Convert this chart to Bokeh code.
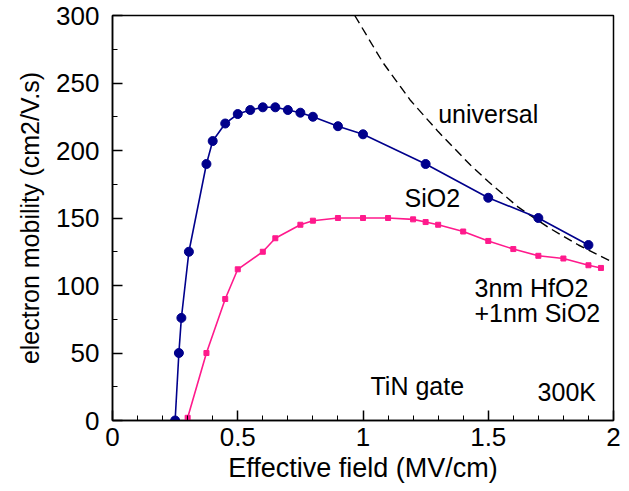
from bokeh.plotting import figure
from bokeh.models import Range1d, FixedTicker, Label
from bokeh.embed import file_html
from bokeh.resources import INLINE

# Electron mobility vs. effective field, TiN gate, 300 K
sio2_field = [0.25, 0.265, 0.275, 0.305, 0.375, 0.40, 0.45, 0.50, 0.55, 0.60,
              0.65, 0.70, 0.75, 0.80, 0.90, 1.00, 1.25, 1.50, 1.70, 1.90]
sio2_mobility = [0, 50, 76, 125, 190, 207, 220, 227, 230, 232,
                 232, 230, 228, 225, 218, 212, 190, 165, 150, 130]

hfo2_field = [0.30, 0.375, 0.45, 0.50, 0.60, 0.65, 0.75, 0.80, 0.90, 1.00, 1.10,
              1.20, 1.25, 1.30, 1.40, 1.50, 1.60, 1.70, 1.80, 1.90, 1.95]
hfo2_mobility = [2, 50, 90, 112, 125, 135, 145, 148, 150, 150, 150,
                 149, 147, 145, 140, 133, 127, 122, 120, 115, 113]

universal_field = [0.967, 1.08, 1.19, 1.30, 1.43, 1.50, 1.62, 1.74, 1.86, 2.0]
universal_mobility = [300, 265, 237, 214, 189, 177, 158, 143, 130, 117]

x_ticks = [0, 0.5, 1, 1.5, 2]
x_tick_labels = {0: "0", 0.5: "0.5", 1: "1", 1.5: "1.5", 2: "2"}
y_ticks = [0, 50, 100, 150, 200, 250, 300]

FONT = "Liberation Sans"
BLUE = "#00008C"
PINK = "#FF1A8C"

p = figure(width=629, height=491, output_backend="svg", toolbar_location=None,
           x_range=Range1d(0, 2), y_range=Range1d(0, 300),
           min_border_left=112, min_border_right=16, min_border_top=15,
           min_border_bottom=71)

p.xgrid.visible = False
p.ygrid.visible = False
p.outline_line_color = "black"
p.outline_line_width = 1.5
p.background_fill_color = "white"
p.border_fill_color = "white"

# universal mobility curve
p.line(universal_field, universal_mobility, line_color="black", line_width=1.4,
       line_dash="9 5")

# SiO2 reference
p.line(sio2_field, sio2_mobility, line_color=BLUE, line_width=1.6)
p.scatter(sio2_field, sio2_mobility, marker="circle", size=9,
          fill_color=BLUE, line_color=BLUE)

# 3nm HfO2 + 1nm SiO2 stack
p.line(hfo2_field, hfo2_mobility, line_color=PINK, line_width=1.6)
p.scatter(hfo2_field, hfo2_mobility, marker="square", size=5,
          fill_color=PINK, line_color=PINK)

for ax in (p.xaxis, p.yaxis):
    ax.axis_line_color = "black"
    ax.axis_line_width = 1.5
    ax.major_tick_line_color = "black"
    ax.major_tick_line_width = 1.5
    ax.minor_tick_line_color = "black"
    ax.major_tick_in = 10
    ax.major_tick_out = 0
    ax.minor_tick_in = 5
    ax.minor_tick_out = 0
    ax.major_label_text_font = FONT
    ax.major_label_text_font_size = "26px"
    ax.major_label_text_color = "black"
    ax.axis_label_text_font = FONT
    ax.axis_label_text_font_style = "normal"
    ax.axis_label_text_color = "black"

p.xaxis.ticker = FixedTicker(ticks=x_ticks,
                             minor_ticks=[i / 10 for i in range(0, 21)])
p.xaxis.major_label_overrides = x_tick_labels
p.xaxis.major_label_standoff = 7
p.xaxis.axis_label = "Effective field (MV/cm)"
p.xaxis.axis_label_text_font_size = "27px"
p.xaxis.axis_label_standoff = 4

p.yaxis.ticker = FixedTicker(ticks=y_ticks, minor_ticks=list(range(0, 301, 25)))
p.yaxis.major_label_standoff = 13
p.yaxis.axis_label = "electron mobility (cm2/V.s)"
p.yaxis.axis_label_text_font_size = "25px"
p.yaxis.axis_label_standoff = 9

annotations = [
    ("universal", 1.30, 227.0),
    ("SiO2", 1.166, 164.5),
    ("3nm HfO2", 1.445, 98.5),
    ("+1nm SiO2", 1.445, 80.0),
    ("TiN gate", 1.03, 25.5),
    ("300K", 1.697, 21.0),
]
for txt, x, y in annotations:
    p.add_layout(Label(x=x, y=y, text=txt, text_font=FONT,
                       text_font_size="25px", text_color="black",
                       text_baseline="alphabetic", text_align="left"))

open("out.html", "w").write(file_html(p, INLINE))
